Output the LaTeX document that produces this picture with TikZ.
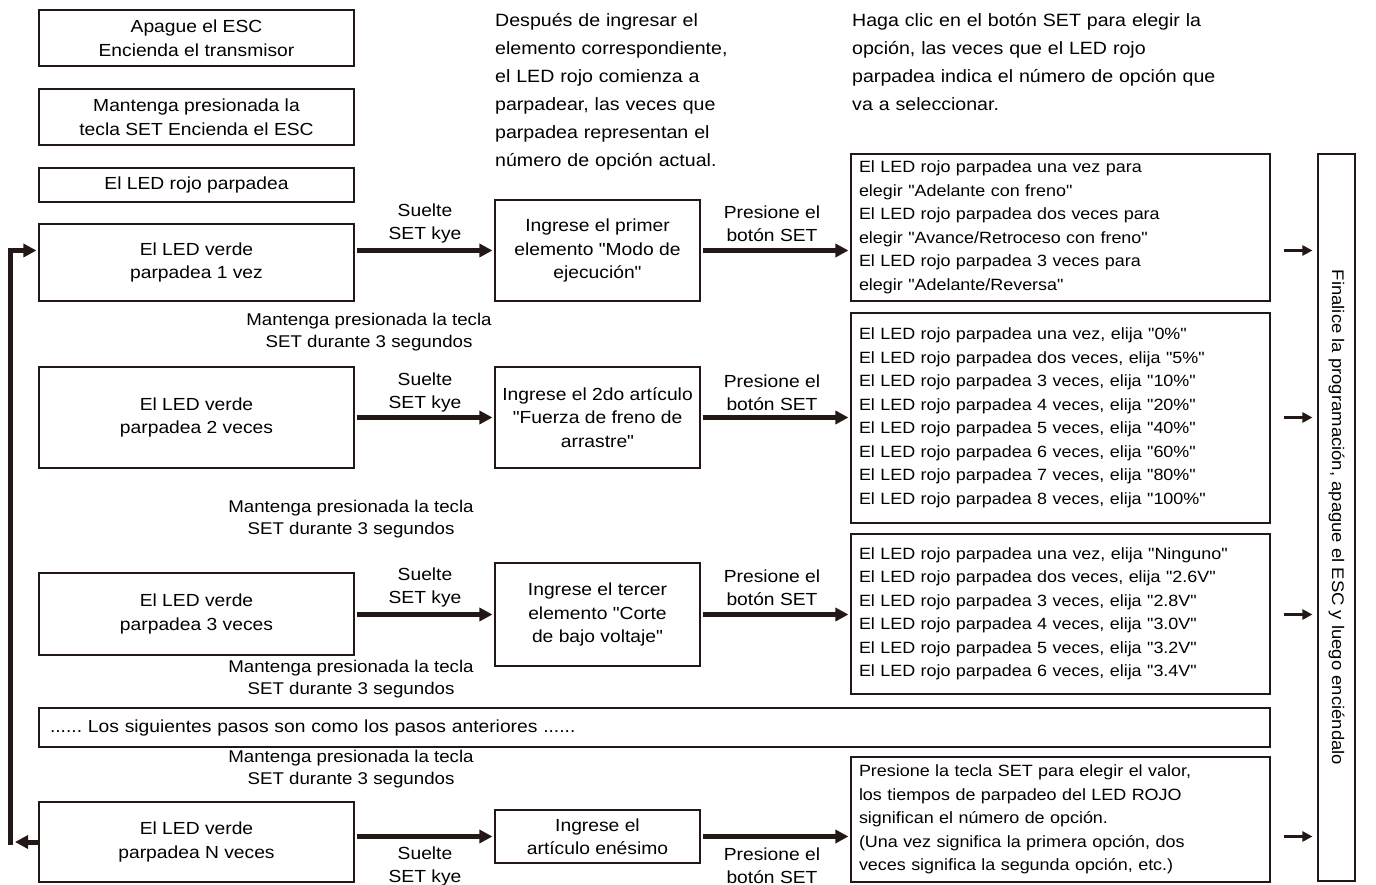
\documentclass[tikz,border=0pt]{standalone}
\usepackage{fontspec}
\setmainfont{Liberation Sans}[FakeStretch=1.1,Ligatures=TeXOff]
\usetikzlibrary{arrows.meta}
\definecolor{ink}{RGB}{35,24,21}
\frenchspacing

\begin{document}
\begin{tikzpicture}[x=1pt,y=-1pt,
		box/.style = {draw=ink,line width=1.1pt,inner sep=1pt,align=center,font=\fontsize{17.5}{23.5}\selectfont},
		led box/.style = {box,minimum width=315pt},
		item box/.style = {box,minimum width=205pt},
		opt box/.style = {draw=ink,line width=1.1pt,inner xsep=8pt,inner ysep=1pt,text width=403pt,align=left,font=\fontsize{16.3}{23.5}\selectfont},
		tag/.style = {align=center,inner sep=0pt,font=\fontsize{17.5}{23}\selectfont},
		hold/.style = {align=center,inner sep=0pt,font=\fontsize{17}{22}\selectfont},
		note/.style = {anchor=base west,align=left,inner sep=0pt,font=\fontsize{17.8}{28}\selectfont},
		big arrow/.style = {draw=ink,line width=5pt,-{Triangle[length=13pt,width=13pt]}},
		small arrow/.style = {draw=ink,line width=3pt,-{Triangle[length=10pt,width=10pt]},shorten <=13pt,shorten >=5pt}]

		\useasboundingbox (0,0) rectangle (1376,885);

		\node[led box,minimum height=56pt] (off) at (196.5,38) {Apague el ESC\\Encienda el transmisor};
		\node[led box,minimum height=56pt] (press) at (196.5,117) {Mantenga presionada la\\tecla SET Encienda el ESC};
		\node[led box,minimum height=34pt] (red) at (196.5,185) {El LED rojo parpadea};

		\node[note,text width=260pt] (n1) at (495,26.5) {Después de ingresar el\\elemento correspondiente,\\el LED rojo comienza a\\parpadear, las veces que\\parpadea representan el\\número de opción actual.};
		\node[note,text width=400pt] (n2) at (852,26.5) {Haga clic en el botón SET para elegir la\\opción, las veces que el LED rojo\\parpadea indica el número de opción que\\va a seleccionar.};

		\node[led box,minimum height=77pt] (g1) at (196.5,262.5) {El LED verde\\parpadea 1 vez};
		\node[led box,minimum height=101pt] (g2) at (196.5,417.5) {El LED verde\\parpadea 2 veces};
		\node[led box,minimum height=82pt] (g3) at (196.5,614) {El LED verde\\parpadea 3 veces};
		\node[led box,minimum height=80pt] (gN) at (196.5,842) {El LED verde\\parpadea N veces};

		\node[item box,minimum height=101pt] (i1) at (597.5,250.5) {Ingrese el primer\\elemento "Modo de\\ejecución"};
		\node[item box,minimum height=101pt] (i2) at (597.5,417.5) {Ingrese el 2do artículo\\"Fuerza de freno de\\arrastre"};
		\node[item box,minimum height=103pt] (i3) at (597.5,614.5) {Ingrese el tercer\\elemento "Corte\\de bajo voltaje"};
		\node[item box,minimum height=53pt] (iN) at (597.5,836.5) {Ingrese el\\artículo enésimo};

		\node[opt box,minimum height=147pt] (o1) at (1060.5,227.5) {El LED rojo parpadea una vez para\\elegir "Adelante con freno"\\El LED rojo parpadea dos veces para\\elegir "Avance/Retroceso con freno"\\El LED rojo parpadea 3 veces para\\elegir "Adelante/Reversa"};
		\node[opt box,minimum height=210pt] (o2) at (1060.5,418) {El LED rojo parpadea una vez, elija "0\%"\\El LED rojo parpadea dos veces, elija "5\%"\\El LED rojo parpadea 3 veces, elija "10\%"\\El LED rojo parpadea 4 veces, elija "20\%"\\El LED rojo parpadea 5 veces, elija "40\%"\\El LED rojo parpadea 6 veces, elija "60\%"\\El LED rojo parpadea 7 veces, elija "80\%"\\El LED rojo parpadea 8 veces, elija "100\%"};
		\node[opt box,minimum height=160pt] (o3) at (1060.5,614) {El LED rojo parpadea una vez, elija "Ninguno"\\El LED rojo parpadea dos veces, elija "2.6V"\\El LED rojo parpadea 3 veces, elija "2.8V"\\El LED rojo parpadea 4 veces, elija "3.0V"\\El LED rojo parpadea 5 veces, elija "3.2V"\\El LED rojo parpadea 6 veces, elija "3.4V"};
		\node[opt box,minimum height=125pt] (oN) at (1060.5,819.5) {Presione la tecla SET para elegir el valor,\\los tiempos de parpadeo del LED ROJO\\significan el número de opción.\\(Una vez significa la primera opción, dos\\veces significa la segunda opción, etc.)};

		\node[box,text width=1209pt,inner xsep=11pt,align=left,minimum height=39pt] (same) at (654.5,727.5) {...... Los siguientes pasos son como los pasos anteriores ......};

		\node[draw=ink,line width=1.1pt,minimum width=37pt,minimum height=727pt,inner sep=0pt] (fin) at (1336.5,517.5) {};
		\node[rotate=-90,inner sep=0pt,font=\fontsize{16.8}{20}\selectfont] (fintext) at (fin.center) {Finalice la programación, apague el ESC y luego enciéndalo};

		\node[tag] (s1) at (425,223.5) {Suelte\\SET kye};
		\node[tag] (s2) at (425,392.5) {Suelte\\SET kye};
		\node[tag] (s3) at (425,587.5) {Suelte\\SET kye};
		\node[tag] (sN) at (425,866) {Suelte\\SET kye};
		\node[tag] (p1) at (772,223.5) {Presione el\\botón SET};
		\node[tag] (p2) at (772,392.5) {Presione el\\botón SET};
		\node[tag] (p3) at (772,587.5) {Presione el\\botón SET};
		\node[tag] (pN) at (772,866) {Presione el\\botón SET};

		\node[hold] (h1) at (369,332) {Mantenga presionada la tecla\\SET durante 3 segundos};
		\node[hold] (h2) at (351,519) {Mantenga presionada la tecla\\SET durante 3 segundos};
		\node[hold] (h3) at (351,679) {Mantenga presionada la tecla\\SET durante 3 segundos};
		\node[hold] (h4) at (351,769) {Mantenga presionada la tecla\\SET durante 3 segundos};

		\draw[big arrow,shorten <=2pt,shorten >=2pt] (g1.east |- i1.west) -- (i1.west);
		\draw[big arrow,shorten <=2pt,shorten >=2pt] (g2.east |- i2.west) -- (i2.west);
		\draw[big arrow,shorten <=2pt,shorten >=2pt] (g3.east |- i3.west) -- (i3.west);
		\draw[big arrow,shorten <=2pt,shorten >=2pt] (gN.east |- iN.west) -- (iN.west);
		\draw[big arrow,shorten <=2pt,shorten >=2pt] (i1.east) -- (o1.west |- i1.east);
		\draw[big arrow,shorten <=2pt,shorten >=2pt] (i2.east) -- (o2.west |- i2.east);
		\draw[big arrow,shorten <=2pt,shorten >=2pt] (i3.east) -- (o3.west |- i3.east);
		\draw[big arrow,shorten <=2pt,shorten >=2pt] (iN.east) -- (oN.west |- iN.east);

		\draw[small arrow] (o1.east |- i1.east) -- (fin.west |- i1.east);
		\draw[small arrow] (o2.east |- i2.east) -- (fin.west |- i2.east);
		\draw[small arrow] (o3.east |- i3.east) -- (fin.west |- i3.east);
		\draw[small arrow] (oN.east |- iN.east) -- (fin.west |- iN.east);

		\coordinate (back) at (15,842);
		\coordinate (up) at (10,845);
		\draw[big arrow] (gN.west) -- (back);
		\draw[big arrow,shorten >=2pt] (up) |- (g1.west |- i1.west);
\end{tikzpicture}
\end{document}
